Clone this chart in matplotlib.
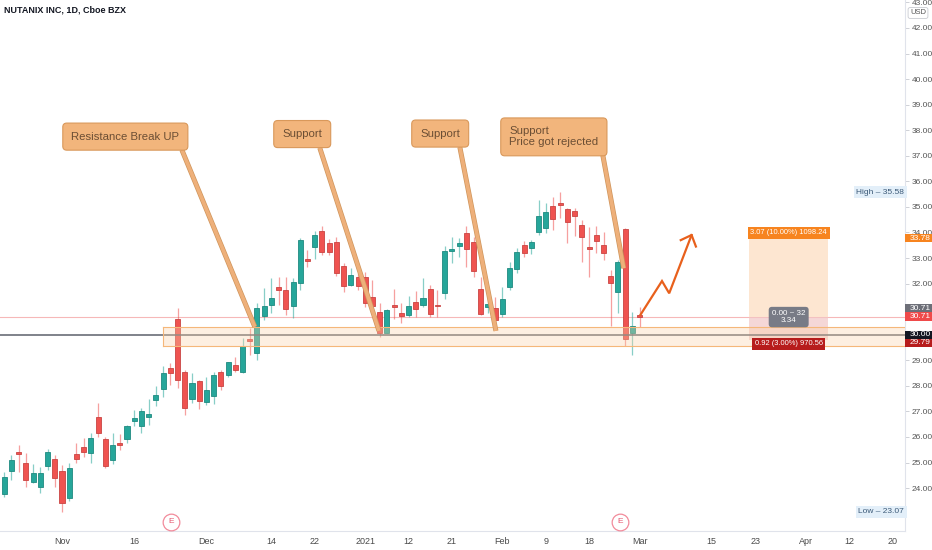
import numpy as np
import pandas as pd
import matplotlib
matplotlib.use('Agg')
import matplotlib.pyplot as plt
import matplotlib.patheffects as pe
from matplotlib.patches import Rectangle
from matplotlib.transforms import blended_transform_factory

plt.rcParams['font.family'] = ['Liberation Sans', 'DejaVu Sans']

# ---- data -------------------------------------------------------------
TITLE = "NUTANIX INC, 1D, Cboe BZX"
HOLIDAYS = ['2020-11-26', '2020-12-25', '2021-01-01', '2021-01-18',
            '2021-02-15', '2021-04-02']
FIRST_DAY = '2020-10-21'
LAST_DAY = '2021-04-30'
FIRST_BAR = '2020-11-02'          # bar index 0

opens = [23.76, 24.66, 25.41, 24.99, 24.25, 24.03, 24.88, 25.13,
         24.68, 23.62, 25.33, 25.62, 25.38, 26.79, 25.91, 25.10, 25.75, 25.93,
         26.64, 26.44, 26.77, 27.45, 27.86, 28.68, 30.60, 28.55, 27.47, 28.20,
         27.38, 27.60, 28.53, 28.42, 28.81, 28.55, 29.83, 29.30, 30.73, 31.16,
         31.86, 31.75, 31.12, 32.04, 32.95, 33.44, 34.06, 33.60, 33.64, 32.69,
         31.95, 32.25, 32.27, 31.46, 30.88, 30.06, 31.15, 30.84, 30.76, 31.27,
         31.16, 31.80, 31.15, 31.64, 33.29, 33.47, 33.97, 33.62, 31.79, 31.07,
         31.03, 30.81, 31.88, 32.56, 33.50, 33.38, 34.03, 34.16, 35.05, 35.14,
         34.91, 34.83, 34.29, 33.42, 33.89, 33.51, 32.30, 31.68, 34.12, 30.08,
         30.78]
highs = [24.62, 25.29, 25.69, 25.36, 24.93, 24.84, 25.53, 25.29,
         24.90, 24.97, 25.75, 25.95, 26.14, 27.34, 25.99, 26.14, 26.12, 26.47,
         27.05, 27.12, 27.49, 27.99, 28.78, 28.88, 31.03, 28.60, 28.51, 28.23,
         28.33, 28.55, 28.62, 28.94, 29.12, 29.86, 30.25, 31.24, 31.82, 32.21,
         32.27, 32.27, 32.21, 33.77, 33.31, 34.07, 34.27, 33.73, 33.81, 32.82,
         32.60, 32.40, 32.47, 32.14, 31.23, 31.00, 31.78, 31.25, 31.51, 31.72,
         32.21, 31.95, 31.75, 33.47, 33.84, 33.77, 34.25, 33.84, 32.25, 31.55,
         31.49, 31.88, 32.86, 33.38, 33.68, 33.71, 35.27, 35.14, 35.40, 35.58,
         34.95, 34.95, 34.49, 34.23, 34.27, 34.03, 32.53, 32.92, 34.16, 30.90,
         31.07]
lows = [23.66, 24.32, 24.64, 24.05, 24.20, 23.80, 24.71, 24.05,
        23.07, 23.51, 24.97, 25.23, 24.97, 26.01, 24.77, 24.93, 25.49, 25.75,
        26.44, 26.17, 26.47, 27.21, 27.58, 28.03, 27.90, 26.86, 27.32, 27.08,
        27.25, 27.28, 27.84, 28.36, 28.55, 28.49, 29.21, 29.01, 30.58, 30.84,
        31.16, 30.77, 30.64, 31.75, 32.64, 32.95, 33.12, 33.12, 32.30, 31.68,
        31.91, 31.75, 31.10, 30.90, 29.92, 30.06, 30.60, 30.45, 30.70, 30.68,
        31.10, 30.70, 30.68, 31.39, 32.82, 33.05, 32.66, 32.27, 30.77, 30.84,
        30.18, 30.70, 31.75, 32.40, 33.03, 33.16, 33.90, 33.97, 34.10, 34.55,
        33.58, 33.86, 32.86, 32.25, 33.21, 32.92, 30.34, 30.84, 29.56, 29.21,
        30.31]
closes = [24.45, 25.10, 25.35, 24.32, 24.58, 24.58, 25.40, 24.38,
          23.40, 24.77, 25.15, 25.41, 25.95, 26.14, 24.88, 25.69, 25.67, 26.42,
          26.74, 27.03, 26.91, 27.64, 28.49, 28.49, 28.23, 27.12, 28.10, 27.42,
          27.84, 28.41, 27.99, 28.92, 28.62, 29.57, 29.75, 31.03, 31.13, 31.45,
          31.75, 31.01, 32.08, 33.71, 32.87, 33.90, 33.25, 33.25, 32.40, 31.91,
          32.34, 31.91, 31.23, 31.12, 30.06, 30.97, 31.08, 30.75, 31.13, 31.00,
          31.45, 30.80, 31.11, 33.28, 33.37, 33.58, 33.35, 32.49, 30.81, 31.20,
          30.58, 31.39, 32.60, 33.25, 33.19, 33.62, 34.64, 34.81, 34.53, 35.09,
          34.42, 34.66, 33.84, 33.35, 33.68, 33.19, 32.01, 32.86, 29.82, 30.34,
          30.71]
ups = [True, True, False, False, True, True, True, False,
       False, True, False, False, True, False, False, True, False, True,
       True, True, True, True, True, False, False, False, True, False,
       True, True, False, True, False, True, False, True, True, True,
       False, False, True, True, False, True, False, False, False, False,
       True, False, False, False, False, True, False, False, True, False,
       True, False, False, True, True, True, False, False, False, True,
       False, True, True, True, False, True, True, True, False, False,
       False, False, False, False, False, False, False, True, False, True,
       False]

x_tick_dates = ['2020-11-02', '2020-11-16', '2020-12-01', '2020-12-14',
                '2020-12-22', '2021-01-04', '2021-01-12', '2021-01-21',
                '2021-02-01', '2021-02-09', '2021-02-18', '2021-03-01',
                '2021-03-15', '2021-03-23', '2021-04-01', '2021-04-12',
                '2021-04-20']
x_tick_labels = ['Nov', '16', 'Dec', '14', '22', '2021', '12', '21', 'Feb',
                 '9', '18', 'Mar', '15', '23', 'Apr', '12', '20']
y_ticks = list(range(24, 44))
y_hidden = [30, 31]               # covered by the price tags
earnings_bars = [15.1, 77.3]

zone_start_bar = 14
zone_low, zone_high = 29.57, 30.29
last_price = 30.71
line_price = 30.00
high_price, low_price = 35.58, 23.07

pos_start, pos_end = 95.2, 106.1
pos_entry, pos_target, pos_stop = 30.71, 33.78, 29.79
pos_target_txt = "3.07 (10.00%) 1098.24"
pos_mid_txt = "0.00 ~ 32\n3.34"
pos_stop_txt = "0.92 (3.00%) 970.56"

# axis price tags: (level shown, label, colour)
tag_levels = [33.78, 31.04, 30.71, 30.00, 29.68]
tag_labels = ['33.78', '30.71', '30.71', '30.00', '29.79']
tag_colors = ['#f7841f', '#6d6f78', '#ef4a4a', '#131722', '#b71c1c']

callout_texts = ["Resistance Break UP", "Support", "Support",
                 "Support\nPrice got rejected"]
callout_text_x = [1.29, 30.51, 49.62, 61.95]
callout_text_y = [37.75, 37.85, 37.87, 37.74]
callout_base_x = [16.6, 35.7, 55.1, 74.9]
callout_base_y = [37.23, 37.31, 37.34, 37.03]
callout_tip_x = [26.7, 43.9, 60.1, 77.8]
callout_tip_y = [30.31, 30.15, 30.15, 32.60]

arrow_x = [80.1, 83.1, 84.1, 87.2]
arrow_y = [30.77, 32.10, 31.62, 33.90]

# ---- calendar -> bar index ---------------------------------------------
days = pd.bdate_range(FIRST_DAY, LAST_DAY)
days = days[~days.isin(pd.to_datetime(HOLIDAYS))]
offset = list(days).index(pd.Timestamp(FIRST_BAR))
bar_of = {d.strftime('%Y-%m-%d'): i - offset for i, d in enumerate(days)}
bars = np.arange(len(opens)) - offset

GREEN, RED = '#26a69a', '#ef5350'

fig = plt.figure(figsize=(9.32, 5.5), dpi=100)
ax = fig.add_axes([0, 19 / 550, 905 / 932, 531 / 550])
ax.set_xlim(-8.59, 116.76)
ax.set_ylim(22.32, 43.095)

# candles
o = np.array(opens); c = np.array(closes)
h = np.array(highs); l = np.array(lows)
up = np.array(ups)
cols = np.where(up, GREEN, RED)
edge = np.where(up, '#1f8a80', '#c94442')
ax.vlines(bars, l, h, colors=cols, linewidth=0.9, alpha=0.55, zorder=2)
ax.bar(bars, np.maximum(np.abs(c - o), 0.03), bottom=np.minimum(o, c),
       width=0.7, color=cols, edgecolor=edge, linewidth=0.6, zorder=3)

# horizontal levels
ax.axhline(last_price, color='#f6b8b8', lw=0.8, zorder=1)
ax.axhline(line_price, color='#5d606b', lw=1.1, zorder=4)

# support / resistance zone
ax.fill_between([zone_start_bar, 200], zone_low, zone_high,
                color='#fbd3a9', alpha=0.35, zorder=5, linewidth=0)
for yv in (zone_low, zone_high):
    ax.plot([zone_start_bar, 200], [yv, yv], color='#f5b77a', lw=0.8,
            zorder=5)
ax.plot([zone_start_bar, zone_start_bar], [zone_low, zone_high],
        color='#f5b77a', lw=0.8, zorder=5)

# long position tool
ax.fill_between([pos_start, pos_end], pos_entry, pos_target,
                color='#fde0c6', alpha=0.8, zorder=1, linewidth=0)
ax.fill_between([pos_start, pos_end], pos_stop, pos_entry,
                color='#f2c6c6', alpha=0.7, zorder=1, linewidth=0)
pos_mid = (pos_start + pos_end) / 2
ax.text(pos_mid, pos_target + 0.2, pos_target_txt, ha='center', va='center',
        fontsize=5.4, color='white', zorder=8,
        bbox=dict(boxstyle='square,pad=0.35', fc='#f7841f', ec='none'))
ax.text(pos_mid, pos_entry - 0.02, pos_mid_txt, ha='center', va='center',
        fontsize=5.8, color='white', zorder=8, linespacing=1.0,
        bbox=dict(boxstyle='round,pad=0.4', fc='#787b86', ec='none'))
ax.text(pos_mid, pos_stop - 0.15, pos_stop_txt, ha='center', va='center',
        fontsize=5.4, color='white', zorder=8,
        bbox=dict(boxstyle='square,pad=0.35', fc='#b71c1c', ec='none'))

# callouts
for txt, tx, ty, bx, by, px, py in zip(callout_texts, callout_text_x,
                                       callout_text_y, callout_base_x,
                                       callout_base_y, callout_tip_x,
                                       callout_tip_y):
    ax.plot([bx, px], [by, py], color='#eeb07a', lw=2.6, zorder=6,
            solid_capstyle='butt',
            path_effects=[pe.Stroke(linewidth=3.6, foreground='#cf955c'),
                          pe.Normal()])
    ax.text(tx, ty, txt, ha='left', va='center', fontsize=8.2,
            color='#6b4e34', zorder=7, linespacing=1.1,
            bbox=dict(boxstyle='round,pad=0.75,rounding_size=0.35',
                      fc='#f2b57c', ec='#d9985a', lw=0.8))

# projected move arrow
ax.plot(arrow_x, arrow_y, color='#e8601c', lw=1.6, zorder=7,
        solid_joinstyle='miter')
ax.plot([arrow_x[-1] - 1.5, arrow_x[-1], arrow_x[-1] + 0.6],
        [arrow_y[-1] - 0.2, arrow_y[-1], arrow_y[-1] - 0.45],
        color='#e8601c', lw=1.6, zorder=7)

# earnings markers
tr = blended_transform_factory(ax.transData, ax.transAxes)
for eb in earnings_bars:
    ax.plot(eb, 0.017, 'o', ms=12, mfc='white', mec='#f28b9b', mew=0.9,
            transform=tr, zorder=8, clip_on=False)
    ax.text(eb, 0.017, 'E', ha='center', va='center', fontsize=6,
            color='#e5576f', transform=tr, zorder=9)

# axes styling
for s in ('top', 'left'):
    ax.spines[s].set_visible(False)
for s in ('bottom', 'right'):
    ax.spines[s].set_color('#e0e3eb')
    ax.spines[s].set_linewidth(0.8)

ax.set_xticks([bar_of[d] for d in x_tick_dates])
ax.set_xticklabels(x_tick_labels)
ax.tick_params(axis='x', length=0, pad=4, labelsize=6.5, labelcolor='#4a4a4a')
ax.yaxis.tick_right()
ax.set_yticks(y_ticks)
ax.set_yticklabels(['' if v in y_hidden else f"{v:.2f}" for v in y_ticks])
ax.tick_params(axis='y', length=3, width=0.6, color='#c8cad0', pad=2,
               labelsize=6.0, labelcolor='#555555')

# right axis price tags, drawn as full-width boxes over the tick labels
tr_r = blended_transform_factory(ax.transAxes, ax.transData)
tag_h = 0.32
for yv, lab, fc in zip(tag_levels, tag_labels, tag_colors):
    ax.add_patch(Rectangle((1.0, yv - tag_h / 2), 932 / 905 - 1.0, tag_h,
                           transform=tr_r, fc=fc, ec='none', zorder=10,
                           clip_on=False))
    ax.text(1.005, yv, lab, transform=tr_r, ha='left', va='center',
            fontsize=6.0, color='white', zorder=11, clip_on=False)

ax.text(0.999, high_price, f"High \u2013 {high_price:.2f}", transform=tr_r,
        ha='right', va='center', fontsize=6, color='#3c5a78', zorder=10,
        bbox=dict(boxstyle='square,pad=0.3', fc='#e3eff9', ec='none'))
ax.text(0.999, low_price, f"Low \u2013 {low_price:.2f}", transform=tr_r,
        ha='right', va='center', fontsize=6, color='#3c5a78', zorder=10,
        bbox=dict(boxstyle='square,pad=0.3', fc='#e3eff9', ec='none'))

fig.text(918 / 932, 1 - 13 / 550, 'USD', ha='center', va='center',
         fontsize=5.5, color='#555555',
         bbox=dict(boxstyle='round,pad=0.25', fc='white', ec='#c8cad0',
                   lw=0.6))
fig.text(4 / 932, 1 - 10 / 550, TITLE, ha='left', va='center', fontsize=6.5,
         fontweight='bold', color='#131722')

fig.savefig('out.png', dpi=100)
